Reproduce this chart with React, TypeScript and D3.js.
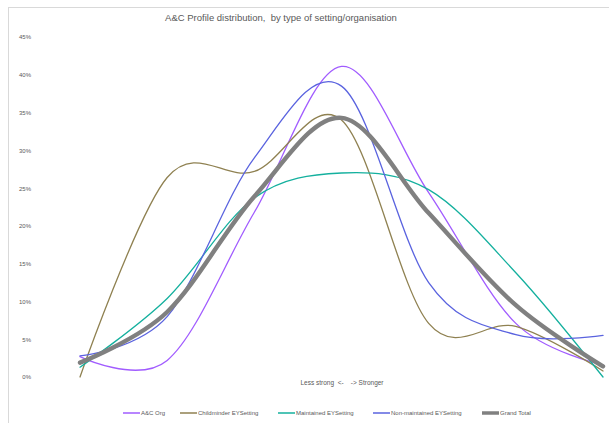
import * as d3 from "d3";
import { useEffect, useRef } from "react";

// profile levels, weakest to strongest (not labelled on the axis)
const categories = ["1", "2", "3", "4", "5", "6", "7"];

const acOrg = [0.027, 0.022, 0.218, 0.411, 0.244, 0.071, 0.016];
const childminder = [0.0, 0.264, 0.272, 0.34, 0.071, 0.067, 0.008];
const maintained = [0.013, 0.104, 0.237, 0.27, 0.248, 0.138, 0.0];
const nonMaintained = [0.028, 0.08, 0.29, 0.385, 0.125, 0.056, 0.055];
const grandTotal = [0.019, 0.086, 0.239, 0.343, 0.217, 0.095, 0.014];

const yTicks = [0, 0.05, 0.1, 0.15, 0.2, 0.25, 0.3, 0.35, 0.4, 0.45];

const series = [
  { name: "A&C Org", values: acOrg, color: "#a15cff", width: 1.3 },
  { name: "Childminder EYSetting", values: childminder, color: "#8f8151", width: 1.3 },
  { name: "Maintained EYSetting", values: maintained, color: "#14b09e", width: 1.3 },
  { name: "Non-maintained EYSetting", values: nonMaintained, color: "#5a63df", width: 1.3 },
  { name: "Grand Total", values: grandTotal, color: "#808080", width: 4.4 },
];

const W = 609;
const H = 423;
const FONT = "'Liberation Sans', Arial, sans-serif";

export default function App() {
  const ref = useRef<SVGSVGElement | null>(null);

  useEffect(() => {
    if (!ref.current) return;
    const svg = d3.select(ref.current);
    svg.selectAll("*").remove();

    const x = d3.scalePoint().domain(categories).range([80, 603]);
    const y = d3.scaleLinear().domain([0, 0.45]).range([377, 37]);

    svg.append("rect").attr("width", W).attr("height", H).attr("fill", "#fff");
    // chart frame, runs off the right and bottom edge like the source
    svg
      .append("rect")
      .attr("x", 8.5)
      .attr("y", 7.5)
      .attr("width", 640)
      .attr("height", 440)
      .attr("fill", "none")
      .attr("stroke", "#d9d9d9");

    svg
      .append("text")
      .attr("x", 281)
      .attr("y", 21)
      .attr("text-anchor", "middle")
      .attr("font-family", FONT)
      .attr("font-size", 9.5)
      .attr("fill", "#595959")
      .style("white-space", "pre")
      .text("A&C Profile distribution,  by type of setting/organisation");

    const yAxis = d3
      .axisLeft(y)
      .tickValues(yTicks)
      .tickSize(0)
      .tickPadding(0)
      .tickFormat((v) => d3.format(".0%")(v as number));
    const ay = svg.append("g").attr("transform", "translate(31,0)").call(yAxis);
    ay.select(".domain").remove();
    ay.selectAll("text")
      .attr("font-family", FONT)
      .attr("font-size", 6)
      .attr("fill", "#595959");

    const line = d3
      .line<number>()
      .x((_, i) => x(categories[i]) as number)
      .y((d) => y(d))
      .curve(d3.curveCardinal.tension(0));

    series.forEach((s) => {
      svg
        .append("path")
        .datum(s.values)
        .attr("fill", "none")
        .attr("stroke", s.color)
        .attr("stroke-width", s.width)
        .attr("stroke-linecap", "round")
        .attr("d", line);
    });

    svg
      .append("text")
      .attr("x", 342)
      .attr("y", 385)
      .attr("text-anchor", "middle")
      .attr("font-family", FONT)
      .attr("font-size", 6.5)
      .attr("fill", "#595959")
      .style("white-space", "pre")
      .text("Less strong  <-    -> Stronger");

    const legendX = [123, 180, 278, 373, 482];
    const lg = svg.append("g");
    series.forEach((s, i) => {
      const g = lg.append("g").attr("transform", `translate(${legendX[i]},413)`);
      g.append("line")
        .attr("x1", 0)
        .attr("x2", 17)
        .attr("stroke", s.color)
        .attr("stroke-width", s.width === 1.3 ? 1.5 : 3.5);
      g.append("text")
        .attr("x", 18)
        .attr("y", 2)
        .attr("font-family", FONT)
        .attr("font-size", 6)
        .attr("fill", "#595959")
        .text(s.name);
    });
  }, []);

  return (
    <div style={{ position: "fixed", left: 0, top: 0 }}>
      <svg ref={ref} width={W} height={H} style={{ display: "block" }} />
    </div>
  );
}
